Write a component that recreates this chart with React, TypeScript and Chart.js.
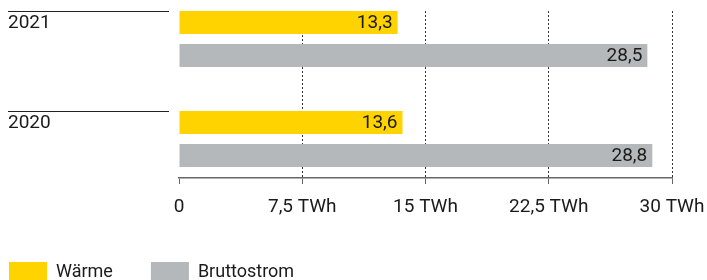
import React, { useEffect, useRef } from 'react';
import { Chart, registerables } from 'chart.js';

Chart.register(...registerables);

// ---- data ----
const categories = ['2021', '2020'];
const seriesNames = ['Wärme', 'Bruttostrom'];
const waerme = [13.3, 13.6];
const bruttostrom = [28.5, 28.8];
const xTickValues = [0, 7.5, 15, 22.5, 30];
const xTickLabels = ['0', '7,5 TWh', '15 TWh', '22,5 TWh', '30 TWh'];

// ---- styles ----
const YELLOW = '#FFD300';
const GRAY = '#B4B8BA';
const TEXT = '#1a1a1a';
const FONT = 'Roboto';

const fmt = (v: number) => v.toFixed(1).replace('.', ',');

const decorPlugin = {
  id: 'decor',
  afterDatasetsDraw(chart: any) {
    const ctx: CanvasRenderingContext2D = chart.ctx;
    ctx.save();
    // value labels inside bar ends
    ctx.font = `19px ${FONT}`;
    ctx.fillStyle = TEXT;
    ctx.textAlign = 'right';
    ctx.textBaseline = 'middle';
    chart.data.datasets.forEach((ds: any, di: number) => {
      const meta = chart.getDatasetMeta(di);
      meta.data.forEach((bar: any, i: number) => {
        const v = ds.data[i].x;
        ctx.fillText(fmt(v), bar.x - 5, bar.y + 1);
      });
    });
    // rules above category labels
    const yScale = chart.scales.y;
    const first = chart.getDatasetMeta(0);
    ctx.strokeStyle = '#222';
    ctx.lineWidth = 1;
    first.data.forEach((bar: any) => {
      const top = Math.round(bar.y - bar.height / 2) + 0.5;
      ctx.beginPath();
      ctx.moveTo(yScale.left, top);
      ctx.lineTo(yScale.right - 10, top);
      ctx.stroke();
    });
    ctx.restore();
  },
  afterDraw(chart: any) {
    const ctx: CanvasRenderingContext2D = chart.ctx;
    ctx.save();
    ctx.font = `18px ${FONT}`;
    ctx.textAlign = 'left';
    ctx.textBaseline = 'middle';
    let x = 9;
    const top = 262;
    chart.data.datasets.forEach((ds: any) => {
      ctx.fillStyle = ds.backgroundColor;
      ctx.fillRect(x, top, 38, 20);
      ctx.fillStyle = TEXT;
      ctx.fillText(ds.label, x + 47, top + 10);
      x += 47 + ctx.measureText(ds.label).width + 38;
    });
    ctx.restore();
  },
};

export default function App() {
  const ref = useRef<HTMLCanvasElement | null>(null);

  useEffect(() => {
    if (!ref.current) return;
    const chart = new Chart(ref.current, {
      type: 'bar',
      data: {
        datasets: [
          {
            label: seriesNames[0],
            data: waerme.map((v, i) => ({ x: v, y: i })),
            backgroundColor: YELLOW,
          },
          {
            label: seriesNames[1],
            data: bruttostrom.map((v, i) => ({ x: v, y: i })),
            backgroundColor: GRAY,
          },
        ],
      },
      options: {
        indexAxis: 'y',
        animation: false,
        responsive: false,
        categoryPercentage: 0.66,
        barPercentage: 23 / 33,
        layout: { padding: { left: 8, right: 35, top: 11, bottom: 62 } },
        plugins: {
          legend: { display: false },
          tooltip: { enabled: false },
        },
        scales: {
          y: {
            type: 'linear',
            reverse: true,
            offset: false,
            min: -0.28,
            max: 1.39,
            afterBuildTicks: (s: any) => {
              s.ticks = categories.map((_, i) => ({ value: i }));
            },
            afterFit: (s: any) => {
              s.width = 171;
              s.paddingTop = 0;
              s.paddingBottom = 0;
            },
            grid: { display: false },
            border: { display: false },
            ticks: {
              callback: (_v: any, i: number) => categories[i],
              crossAlign: 'far',
              labelOffset: -16,
              autoSkip: false,
              font: { family: FONT, size: 19 },
              color: TEXT,
            },
          },
          x: {
            type: 'linear',
            min: 0,
            max: 30,
            afterBuildTicks: (s: any) => {
              s.ticks = xTickValues.map((v) => ({ value: v }));
            },
            afterFit: (s: any) => {
              s.height = 40;
              s.paddingLeft = 0;
              s.paddingRight = 0;
            },
            grid: {
              color: (c: any) => (c.tick && c.tick.value === 0 ? 'rgba(0,0,0,0)' : '#333'),
              tickColor: '#666',
              tickLength: 6,
              lineWidth: 1,
            },
            border: { color: '#666', width: 1.5, dash: [2, 2] },
            ticks: {
              callback: (_v: any, i: number) => xTickLabels[i],
              padding: 12,
              maxRotation: 0,
              autoSkip: false,
              font: { family: FONT, size: 19 },
              color: TEXT,
            },
          },
        },
      } as any,
      plugins: [decorPlugin],
    });
    return () => chart.destroy();
  }, []);

  return (
    <div style={{ position: 'absolute', left: 0, top: 0, width: 707, height: 280 }}>
      <canvas ref={ref} width={707} height={280} />
    </div>
  );
}
